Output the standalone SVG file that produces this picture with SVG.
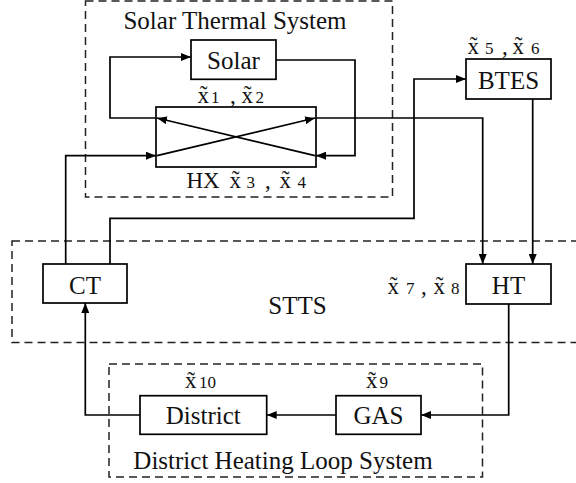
<svg xmlns="http://www.w3.org/2000/svg" width="576" height="483" viewBox="0 0 576 483">
<style>
  .box { fill: #fff; stroke: #000; stroke-width: 1.7; }
  .grp { fill: none; stroke: #222; stroke-width: 1.5; stroke-dasharray: 8 5; }
  .lbl { font-family: "Liberation Serif", "DejaVu Serif", serif; font-size: 25px; fill: #111; text-anchor: middle; }
  .var { font-family: "Liberation Serif", "DejaVu Serif", serif; font-size: 23px; fill: #111; }
  .sub { font-size: 17px; }
  .wire { fill: none; stroke: #000; stroke-width: 1.7; }
</style>
<defs>
  <marker id="arr" markerUnits="userSpaceOnUse" markerWidth="10" markerHeight="8" refX="10" refY="4" orient="auto">
    <path d="M0,0 L10,4 L0,8 Z" fill="#000"/>
  </marker>
</defs>
<rect width="576" height="483" fill="#fff"/>

<g id="groups">
  <rect class="grp" x="85.5" y="1" width="307" height="196"/>
  <rect class="grp" x="12" y="241" width="590" height="101.5"/>
  <rect class="grp" x="109" y="364" width="373.5" height="113"/>
  <text class="lbl" x="235" y="28.5">Solar Thermal System</text>
  <text class="lbl" x="297.5" y="313.5">STTS</text>
  <text class="lbl" x="283" y="468.5">District Heating Loop System</text>
</g>

<g id="connectors">
  <path class="wire" d="M156,118 H110 V57 H191" marker-end="url(#arr)"/>
  <path class="wire" d="M276,60 H355 V155.7 H316" marker-end="url(#arr)"/>
  <path class="wire" d="M315,155.7 L157,118" marker-end="url(#arr)"/>
  <path class="wire" d="M157,155.7 L315,118" marker-end="url(#arr)"/>
  <path class="wire" d="M65.7,264 V155.7 H156" marker-end="url(#arr)"/>
  <path class="wire" d="M110,264 V218.3 H414 V79 H466" marker-end="url(#arr)"/>
  <path class="wire" d="M316,118 H482.7 V264" marker-end="url(#arr)"/>
  <path class="wire" d="M532.7,99 V264" marker-end="url(#arr)"/>
  <path class="wire" d="M508.7,304 V415 H421" marker-end="url(#arr)"/>
  <path class="wire" d="M336,415 H266.7" marker-end="url(#arr)"/>
  <path class="wire" d="M140,415 H85.3 V303" marker-end="url(#arr)"/>
</g>

<g id="solar">
  <rect class="box" x="191" y="40" width="85" height="39.3"/>
  <text class="lbl" x="233.5" y="68.5">Solar</text>
</g>

<g id="hx">
  <rect class="box" x="156" y="107" width="160" height="60" style="fill:none"/>
  <text class="var" y="102.5"><tspan x="197.5">x&#x303;</tspan><tspan class="sub" x="211">1</tspan><tspan x="230">,</tspan><tspan x="241.5">x&#x303;</tspan><tspan class="sub" x="255.5">2</tspan></text>
  <text class="lbl" x="203" y="187.5" style="font-size:23px">HX</text>
  <text class="var" y="187.5"><tspan x="229.5">x&#x303;</tspan><tspan class="sub" x="246.5">3</tspan><tspan x="265">,</tspan><tspan x="279.5">x&#x303;</tspan><tspan class="sub" x="297.5">4</tspan></text>
</g>

<g id="btes">
  <rect class="box" x="466" y="59" width="85" height="40"/>
  <text class="lbl" x="508.5" y="88.5">BTES</text>
  <text class="var" y="53.5"><tspan x="467.5">x&#x303;</tspan><tspan class="sub" x="485">5</tspan><tspan x="502">,</tspan><tspan x="512.5">x&#x303;</tspan><tspan class="sub" x="531">6</tspan></text>
</g>

<g id="ct">
  <rect class="box" x="43" y="264" width="84" height="39"/>
  <text class="lbl" x="85" y="293.5">CT</text>
</g>

<g id="ht">
  <rect class="box" x="466" y="264" width="85" height="40"/>
  <text class="lbl" x="508.5" y="293.5">HT</text>
  <text class="var" y="293.5"><tspan x="387.5">x&#x303;</tspan><tspan class="sub" x="406">7</tspan><tspan x="421">,</tspan><tspan x="433.5">x&#x303;</tspan><tspan class="sub" x="451">8</tspan></text>
</g>

<g id="district">
  <rect class="box" x="140" y="395.7" width="126.7" height="38.6"/>
  <text class="lbl" x="203.3" y="423.5">District</text>
  <text class="var" y="388"><tspan x="185">x&#x303;</tspan><tspan class="sub" x="199">10</tspan></text>
</g>

<g id="gas">
  <rect class="box" x="336" y="395.7" width="85" height="38.6"/>
  <text class="lbl" x="378.5" y="423.5">GAS</text>
  <text class="var" y="388"><tspan x="366">x&#x303;</tspan><tspan class="sub" x="379.5">9</tspan></text>
</g>
</svg>
